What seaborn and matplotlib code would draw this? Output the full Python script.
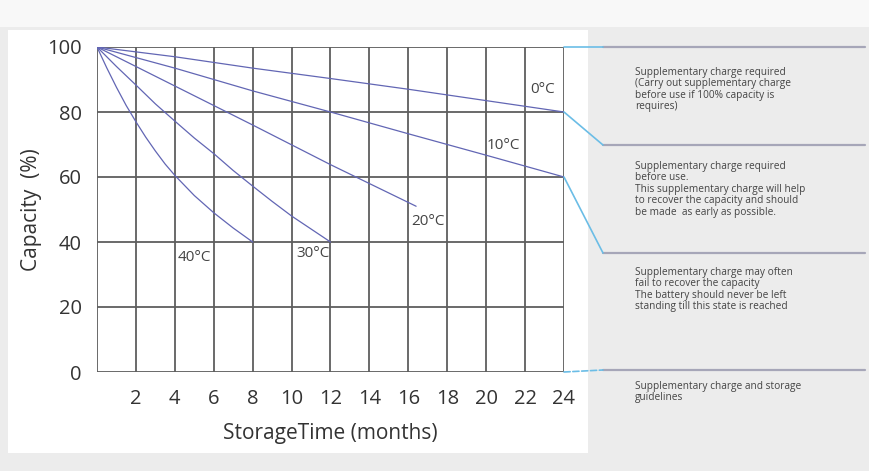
import matplotlib
matplotlib.use("Agg")
import matplotlib.pyplot as plt
from matplotlib.patches import Rectangle, ConnectionPatch
import pandas as pd
import seaborn as sns

# curve data (months, capacity %)
months_0c = [0, 4, 8, 12, 16, 20, 24]
cap_0c = [100, 97, 93.5, 90.3, 87, 83.5, 80]
months_10c = [0, 4, 8, 12, 16, 20, 24]
cap_10c = [100, 93.5, 86.5, 80, 73.3, 66.7, 60]
months_20c = [0, 4, 8, 12, 16.4]
cap_20c = [100, 88, 76, 63.8, 51]
months_30c = [0, 1, 2, 3, 4, 5, 6, 7, 8, 9, 10, 11, 12]
cap_30c = [100, 94, 88.3, 82.5, 77.2, 72, 67.2, 62, 57.2, 52.5, 48, 44, 40]
months_40c = [0, 0.5, 1, 1.5, 2, 2.5, 3, 3.5, 4, 5, 6, 7, 8]
cap_40c = [100, 93.6, 87.6, 82, 77, 72.3, 68, 64, 60.5, 54.3, 49, 44.3, 40]

temps = ["0°C", "10°C", "20°C", "30°C", "40°C"]
label_x = [22.9, 20.9, 17.0, 11.1, 5.0]
label_y = [86.8, 69.8, 46.2, 36.6, 35.1]

x_ticks = list(range(2, 25, 2))
y_ticks = [0, 20, 40, 60, 80, 100]

notes = [
    "Supplementary charge required\n(Carry out supplementary charge\nbefore use if 100% capacity is\nrequires)",
    "Supplementary charge required\nbefore use.\nThis supplementary charge will help\nto recover the capacity and should\nbe made  as early as possible.",
    "Supplementary charge may often\nfail to recover the capacity\nThe battery should never be left\nstanding till this state is reached",
    "Supplementary charge and storage\nguidelines",
]
note_levels = [80, 60, 0]  # capacity levels linked to the side panel

frames = []
for t, m, c in zip(temps, [months_0c, months_10c, months_20c, months_30c, months_40c],
                   [cap_0c, cap_10c, cap_20c, cap_30c, cap_40c]):
    frames.append(pd.DataFrame({"months": m, "capacity": c, "temp": t}))
df = pd.concat(frames, ignore_index=True)

sns.set_style("white")
plt.rcParams["font.family"] = ["Open Sans", "DejaVu Sans"]

W, H = 870, 471
fig = plt.figure(figsize=(W / 100, H / 100), dpi=100)
fig.patch.set_facecolor("#ececec")

# background layer in pixel coords
bg = fig.add_axes([0, 0, 1, 1])
bg.set_xlim(0, W)
bg.set_ylim(H, 0)
bg.axis("off")
bg.add_patch(Rectangle((0, 0), W, 27, color="#f8f8f8", lw=0))
bg.add_patch(Rectangle((8, 30), 580, 423, color="white", lw=0))

ax = fig.add_axes([97 / W, 1 - 372 / H, 467 / W, 325 / H])
ax.set_facecolor("white")
sns.lineplot(data=df, x="months", y="capacity", hue="temp", units="temp",
             estimator=None, sort=False, palette=["#6266b4"] * 5,
             linewidth=0.9, legend=False, ax=ax)
ax.set_xlim(0, 24)
ax.set_ylim(0, 100)
ax.set_xticks(range(0, 25, 2))
ax.set_xticklabels([""] + [str(v) for v in x_ticks])
ax.set_yticks(y_ticks)
ax.set_yticklabels([str(v) for v in y_ticks])
ax.grid(True, color="#5e5e5e", linewidth=1.3)
ax.set_axisbelow(True)
for s in ax.spines.values():
    s.set_visible(False)
ax.tick_params(axis="both", length=0, labelsize=14.5, colors="#333333")
ax.tick_params(axis="x", pad=12)
ax.tick_params(axis="y", pad=11)
ax.set_xlabel("StorageTime (months)", fontsize=15, color="#333333", labelpad=10)
ax.set_ylabel("Capacity  (%)", fontsize=15, color="#333333", labelpad=4)

for t, lx, ly in zip(temps, label_x, label_y):
    ax.text(lx, ly, t, fontsize=11, color="#444444", ha="center", va="center")

# side panel lines and texts
line_y = [47, 145, 253, 370]
for yy in line_y:
    bg.plot([603, 865], [yy, yy], color="#a6a6b8", lw=1.6)
text_y = [67, 161, 267, 381]
for yy, note in zip(text_y, notes):
    bg.text(635, yy, note, fontsize=7.3, color="#444444", va="top", ha="left",
            linespacing=1.05)

# connectors from chart edge to side panel
blue = "#6bbde6"
ends = [(100, 47)] + list(zip(note_levels, line_y[1:]))
for lvl, py in ends:
    ls = "--" if lvl == 0 else "-"
    con = ConnectionPatch(xyA=(24, lvl), coordsA=ax.transData,
                          xyB=(603, py), coordsB=bg.transData,
                          color=blue, lw=1.2, linestyle=ls)
    fig.add_artist(con)

fig.savefig("out.png", dpi=100, facecolor=fig.get_facecolor())
